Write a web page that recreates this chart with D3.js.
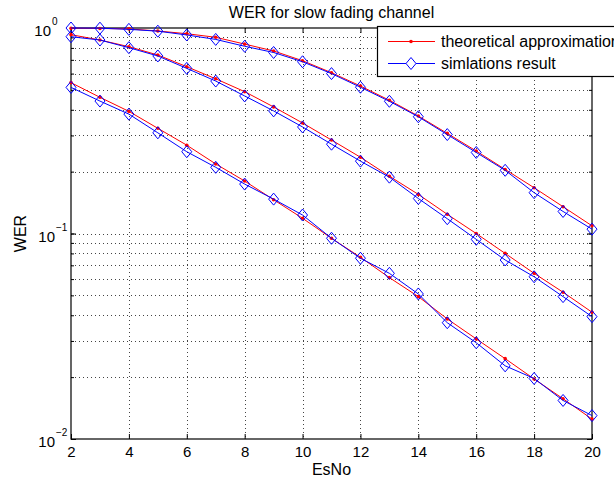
<!DOCTYPE html>
<html>
<head>
<meta charset="utf-8">
<script src="https://cdn.jsdelivr.net/npm/d3@7"></script>
<style>
  body { margin: 0; background: #fff; }
  text { font-family: "Liberation Sans", Arial, sans-serif; fill: #000; }
</style>
</head>
<body>
<svg id="chart" width="614" height="487"></svg>
<script>
// values
const esNo = [2, 3, 4, 5, 6, 7, 8, 9, 10, 11, 12, 13, 14, 15, 16, 17, 18, 19, 20];

const theoryHigh = [0.998, 0.995, 0.99, 0.967, 0.938, 0.901, 0.835, 0.773, 0.693, 0.606, 0.522, 0.445, 0.373, 0.307, 0.252, 0.205, 0.167, 0.135, 0.109];
const simHigh    = [1.0, 0.998, 0.985, 0.965, 0.925, 0.88, 0.815, 0.76, 0.685, 0.6, 0.515, 0.44, 0.37, 0.303, 0.248, 0.203, 0.158, 0.128, 0.105];

const theoryMid = [0.928, 0.874, 0.811, 0.739, 0.648, 0.566, 0.490, 0.413, 0.345, 0.285, 0.235, 0.190, 0.155, 0.124, 0.100, 0.080, 0.064, 0.0518, 0.0414];
const simMid    = [0.907, 0.874, 0.802, 0.731, 0.636, 0.552, 0.467, 0.395, 0.330, 0.272, 0.225, 0.188, 0.148, 0.118, 0.0937, 0.0743, 0.0616, 0.0493, 0.0394];

const theoryLow = [0.542, 0.460, 0.393, 0.325, 0.269, 0.218, 0.180, 0.146, 0.1186, 0.0948, 0.0766, 0.0610, 0.0493, 0.0384, 0.0307, 0.0246, 0.0196, 0.0157, 0.0125];
const simLow    = [0.514, 0.441, 0.381, 0.309, 0.250, 0.210, 0.174, 0.147, 0.123, 0.0948, 0.0758, 0.064, 0.0508, 0.0368, 0.0294, 0.0227, 0.0197, 0.0154, 0.0130];

const xTicks = [2, 4, 6, 8, 10, 12, 14, 16, 18, 20];
const yDecades = [1, 0.1, 0.01];
const yExponents = ["0", "\u22121", "\u22122"];
const legendLabels = ["theoretical approximation", "simlations result"];

const margin = { top: 28, right: 22, bottom: 48, left: 71 };
const width = 614, height = 487;
const svg = d3.select('#chart');

const x = d3.scaleLinear().domain([2, 20]).range([margin.left, width - margin.right]);
const y = d3.scaleLog().domain([0.01, 1]).range([height - margin.bottom, margin.top]);

const x0 = x.range()[0], x1 = x.range()[1];
const yB = y.range()[0], yT = y.range()[1];

// grid (dotted, like matlab ':')
const minorY = y.ticks().filter(v => v > 0.01 && v < 1);
const grid = svg.append('g')
    .attr('stroke', '#444')
    .attr('stroke-width', 1)
    .attr('stroke-dasharray', '1,3');

grid.selectAll('.gx')
    .data(xTicks.filter(v => v > 2 && v < 20))
    .join('line')
    .attr('x1', d => Math.round(x(d)) + 0.5).attr('x2', d => Math.round(x(d)) + 0.5)
    .attr('y1', yT).attr('y2', yB);

grid.selectAll('.gy')
    .data(minorY)
    .join('line')
    .attr('x1', x0).attr('x2', x1)
    .attr('y1', d => Math.round(y(d)) + 0.5).attr('y2', d => Math.round(y(d)) + 0.5);

// axes with inward ticks
const axisG = svg.append('g');

axisG.append('g')
    .attr('transform', `translate(0,${yB})`)
    .call(d3.axisBottom(x).tickValues(xTicks).tickSize(-5).tickPadding(7).tickFormat(d3.format('d')))
    .call(g => g.select('.domain').remove())
    .call(g => g.selectAll('text').attr('font-size', 15).attr('font-family', '"Liberation Sans", Arial, sans-serif'));

axisG.append('g')
    .attr('transform', `translate(0,${yT})`)
    .call(d3.axisTop(x).tickValues(xTicks).tickSize(-5).tickFormat(''))
    .call(g => g.select('.domain').remove());

axisG.append('g')
    .attr('transform', `translate(${x0},0)`)
    .call(d3.axisLeft(y).tickValues(yDecades).tickSize(-5).tickFormat(''))
    .call(g => g.select('.domain').remove());

axisG.append('g')
    .attr('transform', `translate(${x0},0)`)
    .call(d3.axisLeft(y).tickValues(minorY).tickSize(-3).tickFormat(''))
    .call(g => g.select('.domain').remove());

axisG.append('g')
    .attr('transform', `translate(${x1},0)`)
    .call(d3.axisRight(y).tickValues(yDecades).tickSize(-5).tickFormat(''))
    .call(g => g.select('.domain').remove());

axisG.append('g')
    .attr('transform', `translate(${x1},0)`)
    .call(d3.axisRight(y).tickValues(minorY).tickSize(-3).tickFormat(''))
    .call(g => g.select('.domain').remove());

axisG.selectAll('line').attr('stroke', '#000');

svg.append('rect')
    .attr('x', x0).attr('y', yT)
    .attr('width', x1 - x0).attr('height', yB - yT)
    .attr('fill', 'none').attr('stroke', '#000').attr('stroke-width', 1.2);

// y labels 10^n
svg.append('g').selectAll('text')
    .data(yDecades)
    .join('text')
    .attr('x', (d, i) => i === 0 ? 51 : 55)
    .attr('y', d => y(d) + 8)
    .attr('text-anchor', 'end')
    .attr('font-size', 15)
    .text('10');

svg.append('g').selectAll('text')
    .data(yDecades)
    .join('text')
    .attr('x', (d, i) => i === 0 ? 52 : 56)
    .attr('y', d => y(d) - 3)
    .attr('font-size', 10)
    .text((d, i) => yExponents[i]);

// series
const line = d3.line().x((d, i) => x(esNo[i])).y(d => y(d));
const theorySets = [theoryHigh, theoryMid, theoryLow];
const simSets = [simHigh, simMid, simLow];

const diamond = (cx, cy) => `M${cx},${cy - 6}L${cx + 5},${cy}L${cx},${cy + 6}L${cx - 5},${cy}Z`;

theorySets.forEach((vals, k) => {
    svg.append('path').datum(vals)
        .attr('d', line)
        .attr('fill', 'none').attr('stroke', '#ff0000').attr('stroke-width', 1);
    svg.append('g').selectAll('circle')
        .data(vals)
        .join('circle')
        .attr('cx', (d, i) => x(esNo[i])).attr('cy', d => y(d))
        .attr('r', 1.8).attr('fill', '#ff0000');

    const sim = simSets[k];
    svg.append('path').datum(sim)
        .attr('d', line)
        .attr('fill', 'none').attr('stroke', '#0000ff').attr('stroke-width', 1);
    svg.append('g').selectAll('path')
        .data(sim)
        .join('path')
        .attr('d', (d, i) => diamond(x(esNo[i]), y(d)))
        .attr('fill', 'none').attr('stroke', '#0000ff').attr('stroke-width', 1);
});

// titles
svg.append('text')
    .attr('x', (x0 + x1) / 2).attr('y', 18)
    .attr('text-anchor', 'middle').attr('font-size', 16)
    .text('WER for slow fading channel');

svg.append('text')
    .attr('x', (x0 + x1) / 2).attr('y', 475)
    .attr('text-anchor', 'middle').attr('font-size', 16)
    .text('EsNo');

svg.append('text')
    .attr('transform', `translate(26,${(yT + yB) / 2}) rotate(-90)`)
    .attr('text-anchor', 'middle').attr('font-size', 16)
    .text('WER');

// legend, runs off the right edge as in the original
const legend = svg.append('g');
legend.append('rect')
    .attr('x', 377.5).attr('y', 26.5)
    .attr('width', 260).attr('height', 50)
    .attr('fill', '#fff').attr('stroke', '#000').attr('stroke-width', 1.2);

const rowY = [41.5, 63.5];
const rows = legend.selectAll('.row')
    .data(legendLabels)
    .join('g')
    .attr('transform', (d, i) => `translate(0,${rowY[i]})`);

rows.append('line')
    .attr('x1', 388).attr('x2', 435).attr('y1', 0).attr('y2', 0)
    .attr('stroke', (d, i) => i === 0 ? '#ff0000' : '#0000ff');

rows.filter((d, i) => i === 0).append('circle')
    .attr('cx', 411).attr('cy', 0).attr('r', 1.8).attr('fill', '#ff0000');

rows.filter((d, i) => i === 1).append('path')
    .attr('d', diamond(411, 0))
    .attr('fill', '#fff').attr('stroke', '#0000ff');

rows.append('text')
    .attr('x', 441).attr('y', 5.5)
    .attr('font-size', 16)
    .text(d => d);
</script>
</body>
</html>
